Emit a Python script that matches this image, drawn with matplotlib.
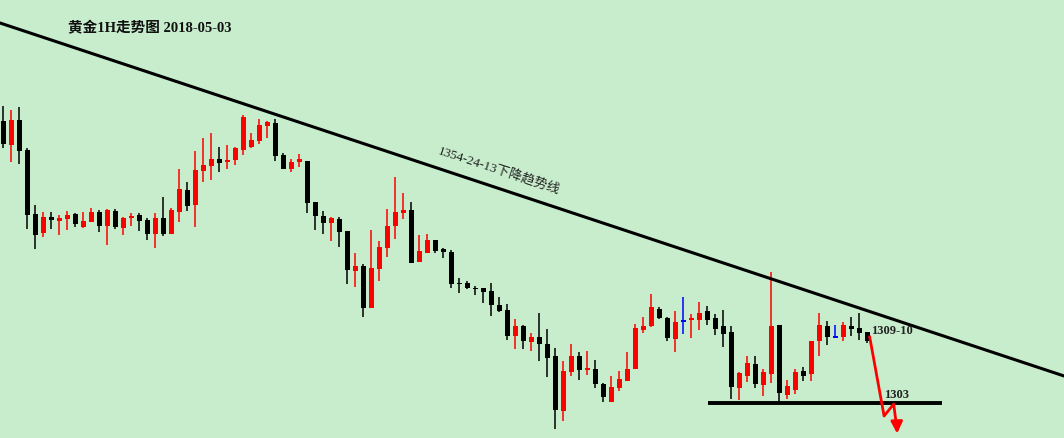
import matplotlib
matplotlib.use("Agg")
import matplotlib.pyplot as plt
import numpy as np

# ---- data (1H gold candles) ----
opens = [1331.2,1328.8,1331.3,1328.3,1321.9,1320.0,1321.6,1321.2,1321.4,1321.9,
         1320.6,1321.1,1322.1,1320.7,1322.2,1320.5,1321.5,1321.8,1321.3,1319.9,
         1321.5,1319.9,1322.1,1324.3,1322.8,1326.2,1326.7,1327.4,1327.1,1327.3,
         1328.3,1328.6,1329.2,1330.7,1331.0,1327.8,1326.4,1327.1,1327.2,1323.1,
         1321.7,1321.0,1321.4,1320.2,1316.2,1316.7,1312.5,1316.4,1318.5,1320.7,
         1322.0,1322.3,1317.1,1318.0,1319.3,1318.4,1318.1,1315.0,1315.0,1314.5,
         1314.5,1314.2,1312.8,1312.3,1309.7,1310.7,1309.1,1309.6,1308.9,1307.7,
         1302.2,1306.1,1307.7,1306.3,1306.4,1304.9,1303.1,1304.5,1305.2,1306.4,
         1310.3,1310.7,1312.4,1311.5,1309.4,1311.2,1311.3,1311.3,1312.2,1311.5,
         1310.7,1310.1,1304.5,1305.7,1306.9,1304.8,1305.9,1310.8,1303.8,1304.3,
         1306.2,1305.9,1309.2,1310.7,1309.6,1309.6,1310.7,1310.5,1310.1]
highs = [1332.7,1332.3,1332.6,1328.5,1322.8,1322.1,1322.1,1321.8,1322.2,1322.0,
         1322.1,1322.5,1322.3,1322.4,1322.4,1321.6,1322.0,1322.0,1321.5,1322.0,
         1323.6,1322.5,1326.4,1325.1,1328.2,1329.5,1330.0,1328.6,1328.8,1328.6,
         1331.8,1330.0,1331.4,1331.2,1331.4,1328.0,1327.4,1327.9,1327.2,1323.1,
         1322.2,1321.6,1321.6,1320.2,1318.0,1316.9,1320.3,1319.2,1322.4,1325.6,
         1324.0,1323.1,1319.8,1319.9,1319.3,1318.5,1318.3,1315.5,1315.2,1314.7,
         1314.5,1315.0,1313.6,1312.9,1311.4,1310.8,1310.0,1312.0,1310.4,1308.5,
         1307.2,1308.9,1308.1,1308.2,1307.3,1305.0,1305.7,1306.2,1308.1,1310.9,
         1311.6,1313.9,1312.6,1311.6,1312.2,1313.6,1311.9,1313.1,1312.7,1311.9,
         1312.3,1310.7,1306.1,1307.7,1307.7,1306.4,1316.1,1310.8,1305.3,1306.4,
         1306.6,1309.2,1312.0,1311.2,1310.8,1311.1,1311.6,1312.0,1310.1]
lows = [1328.5,1327.1,1326.9,1320.4,1318.4,1319.6,1320.4,1319.8,1320.3,1320.6,
        1320.5,1321.1,1320.1,1318.8,1320.4,1319.8,1320.7,1320.2,1319.3,1318.5,
        1319.7,1319.9,1321.1,1322.2,1320.6,1325.1,1325.3,1326.1,1326.4,1326.8,
        1327.8,1328.5,1328.9,1329.5,1327.2,1326.4,1326.1,1326.6,1322.0,1320.3,
        1319.9,1319.2,1318.6,1314.9,1314.6,1311.6,1312.5,1315.2,1317.6,1319.4,
        1321.4,1317.0,1317.1,1318.0,1318.0,1317.5,1314.5,1314.0,1314.4,1313.8,
        1313.0,1311.7,1312.1,1309.3,1308.4,1308.4,1308.2,1307.2,1305.6,1300.4,
        1301.2,1305.7,1305.3,1305.8,1304.5,1303.1,1303.1,1304.2,1305.2,1306.4,
        1310.0,1310.6,1311.4,1309.2,1308.1,1309.9,1309.5,1310.3,1310.8,1309.8,
        1308.6,1303.4,1303.3,1305.1,1304.5,1303.7,1305.0,1303.0,1303.4,1303.9,
        1305.2,1305.2,1307.7,1308.8,1309.5,1309.2,1309.7,1309.3,1309.0]
closes = [1328.9,1331.3,1328.2,1321.8,1319.8,1321.6,1321.3,1321.5,1321.8,1320.9,
          1321.2,1322.1,1320.7,1322.3,1320.6,1321.5,1321.7,1321.2,1319.9,1321.5,
          1319.9,1322.3,1324.4,1322.7,1326.3,1326.8,1327.4,1327.0,1327.3,1328.5,
          1331.6,1329.3,1330.8,1331.1,1327.7,1326.4,1327.1,1327.4,1323.0,1321.7,
          1321.0,1321.5,1320.1,1316.3,1316.7,1312.5,1316.5,1318.6,1320.7,1322.1,
          1322.3,1317.0,1318.2,1319.3,1318.2,1318.1,1314.9,1314.9,1314.5,1314.4,
          1314.1,1312.8,1312.2,1309.7,1310.7,1309.2,1309.6,1308.9,1307.5,1302.3,
          1306.2,1307.7,1306.3,1306.5,1304.9,1303.6,1304.6,1305.4,1306.4,1310.5,
          1310.7,1312.6,1311.5,1309.5,1311.1,1311.2,1311.5,1312.0,1311.3,1310.4,
          1309.9,1304.6,1306.0,1307.0,1304.9,1306.1,1310.7,1304.0,1304.7,1306.1,
          1305.7,1309.2,1310.8,1309.6,1309.6,1310.8,1310.4,1310.0,1309.2]

title_text = "黄金1H走势图 2018-05-03"
trend_label = "1354-24-13下降趋势线"
trend_x = [-0.41, 132.6]
trend_y = [1341.0, 1305.7]
support_level = 1303.0
support_x = [88.1, 117.3]
path_x = [108.3, 110.1, 111.3, 111.7]
path_y = [1309.6, 1301.7, 1302.9, 1300.4]
label_1309 = "1309-10"
label_1303 = "1303"

BG = "#C7EDCC"
UP = "#FF0000"
DOWN = "#000000"
FLAT = "#0000FF"

fig = plt.figure(figsize=(10.64, 4.38), dpi=100, facecolor=BG)
ax = fig.add_axes([0, 0, 1, 1])
ax.set_facecolor(BG)
ax.set_xlim(-3.3 / 8, (1064 - 3.3) / 8)
ax.set_ylim(1343.3 - 43.8, 1343.3)
ax.axis("off")

n = len(opens)
xs = np.arange(n)
for i in range(n):
    o, h, l, c = opens[i], highs[i], lows[i], closes[i]
    if c > o:
        col = UP
    elif c < o:
        col = DOWN
    else:
        col = FLAT
    ax.vlines(xs[i], l, h, color=col, linewidth=1.1, zorder=2)
    bottom = min(o, c)
    height = abs(c - o)
    if height < 0.15:
        bottom = (o + c) / 2 - 0.08
        height = 0.16
    ax.bar(xs[i], height, bottom=bottom, width=0.62, color=col,
           linewidth=0, zorder=3)

# trend line
ax.plot(trend_x, trend_y, color="black", linewidth=2.2, zorder=4)
ax.text(62.0, 1326.3, trend_label, rotation=-18.3, rotation_mode="anchor",
        ha="center", va="center", fontsize=9.5, color="#222222",
        family=["Liberation Serif", "Noto Sans CJK SC"], zorder=5)

# support line
ax.plot(support_x, [support_level, support_level], color="black",
        linewidth=2.8, solid_capstyle="butt", zorder=4)

# red projected path with arrow
ax.plot(path_x, path_y, color=UP, linewidth=2, zorder=6)
ax.annotate("", xy=(path_x[-1] + 0.03, 1299.95), xytext=(path_x[-1], path_y[-1] + 0.3),
            arrowprops=dict(arrowstyle="-|>,head_length=0.7,head_width=0.35",
                            color=UP, linewidth=2, shrinkA=0, shrinkB=0), zorder=6)

ax.text(108.5, 1310.2, label_1309, ha="left", va="center", fontsize=9,
        fontweight="bold", color="#222222", family=["Liberation Serif"], zorder=7)
ax.text(110.1, 1303.8, label_1303, ha="left", va="center", fontsize=9,
        fontweight="bold", color="#222222", family=["Liberation Serif"], zorder=7)

# title
fig.text(68 / 1064, 1 - 28 / 438, title_text, ha="left", va="center",
         fontsize=10.5, fontweight="bold", color="#111111",
         family=["Liberation Serif", "Noto Sans CJK SC"])

fig.savefig("out.png", dpi=100, facecolor=BG)
